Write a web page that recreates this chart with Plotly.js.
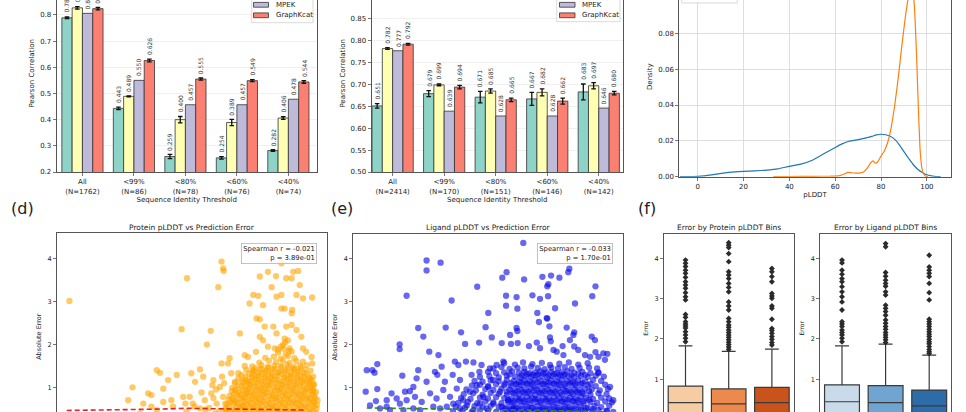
<!DOCTYPE html>
<html><head><meta charset="utf-8">
<script src="https://cdn.plot.ly/plotly-3.0.1.min.js"></script>
<style>
html,body{margin:0;padding:0;overflow:hidden;background:#fff;width:966px;height:412px}
#fig{position:absolute;left:0;top:-30px;width:966px;height:480px}
</style></head><body><div id="fig"></div>
<script>
// ---------------- DATA ----------------
const modelNames = ['Model 1', 'Model 2', 'MPEK', 'GraphKcat'];
const thresholdLabelsA = ['All<br>(N=1762)', '&lt;99%<br>(N=86)', '&lt;80%<br>(N=78)', '&lt;60%<br>(N=76)', '&lt;40%<br>(N=74)'];
const thresholdLabelsB = ['All<br>(N=2414)', '&lt;99%<br>(N=170)', '&lt;80%<br>(N=151)', '&lt;60%<br>(N=146)', '&lt;40%<br>(N=142)'];

const pearsonA_model1 = [0.789, 0.443, 0.259, 0.254, 0.282];
const pearsonA_model2 = [0.827, 0.489, 0.400, 0.389, 0.406];
const pearsonA_mpek = [0.806, 0.550, 0.457, 0.457, 0.478];
const pearsonA_graphkcat = [0.824, 0.626, 0.555, 0.549, 0.544];
const errA_model1 = [0.003, 0.005, 0.008, 0.005, 0.003];
const errA_model2 = [0.005, 0.002, 0.012, 0.012, 0.005];
const errA_graphkcat = [0.005, 0.005, 0.004, 0.004, 0.005];

const pearsonB_model1 = [0.651, 0.679, 0.671, 0.667, 0.683];
const pearsonB_model2 = [0.782, 0.699, 0.685, 0.682, 0.697];
const pearsonB_mpek = [0.777, 0.639, 0.628, 0.628, 0.646];
const pearsonB_graphkcat = [0.792, 0.694, 0.665, 0.662, 0.680];
const errB_model1 = [0.005, 0.007, 0.013, 0.015, 0.018];
const errB_model2 = [0.002, 0.002, 0.005, 0.008, 0.007];
const errB_graphkcat = [0.002, 0.004, 0.004, 0.007, 0.004];

// density curves (panel c)
const densBlueX = [-7.7, -3, 0, 3, 6, 9, 12, 15, 20, 25, 30, 35, 40, 45, 50, 55, 60, 63, 66, 70, 73, 76, 78, 80, 82, 84, 86, 88, 90, 92, 94, 96, 98, 100, 102, 104, 106];
const densBlueY = [0, 0.0001, 0.0002, 0.0005, 0.001, 0.0016, 0.0021, 0.0025, 0.003, 0.0033, 0.0037, 0.0044, 0.0058, 0.007, 0.0092, 0.0128, 0.0163, 0.0183, 0.0198, 0.0207, 0.0215, 0.0225, 0.0233, 0.0237, 0.0234, 0.0226, 0.0208, 0.0178, 0.014, 0.0103, 0.0068, 0.0042, 0.0024, 0.0011, 0.0005, 0.0001, 0];
const densOrangeX = [33, 40, 50, 58, 62, 64, 65.5, 67, 69, 71, 72.5, 74, 75.5, 76.5, 77.5, 78.5, 80, 81.5, 83, 84.5, 86, 87.5, 89, 90.5, 91.5, 92.5, 93.5, 94.5, 95.5, 96.3, 97, 97.8, 98.6, 99.5, 100.5];
const densOrangeY = [0, 0.0001, 0.0002, 0.0003, 0.0006, 0.0015, 0.0024, 0.0022, 0.002, 0.0021, 0.0028, 0.0048, 0.0078, 0.0088, 0.0075, 0.0082, 0.0115, 0.0145, 0.0195, 0.028, 0.04, 0.055, 0.072, 0.088, 0.097, 0.104, 0.107, 0.096, 0.068, 0.038, 0.016, 0.005, 0.0015, 0.0003, 0];

// panel d: protein pLDDT vs absolute error
const protPlddt = [
52.3,64.0,73.1,74.1,80.5,80.8,80.9,79.9,78.5,77.8,68.5,69.1,70.6,72.2,74.9,75.6,76.5,77.1,66.9,67.5,69.7,71.2,73.4,75.2,67.5,79.0,80.2,82.0,81.7,80.5,82.3,83.0,83.9,84.8,85.7,86.4,87.3,87.6,89.1,89.8,90.6,91.6,92.5,93.5,93.8,94.7,95.0,94.4,95.6,97.3,90.7,91.6,88.2,91.6,92.2,93.6,93.5,87.0,87.6,88.5,90.1,92.5,93.5,94.4,95.3,90.7,92.2,92.8,87.6,88.2,89.1,90.4,91.9,93.1,95.6,96.2,97.2,97.3,86.9,85.4,84.8,97.5,97.6,97.5,
63.2,65.4,66.0,68.5,69.7,70.3,71.5,74.0,74.6,75.9,76.5,77.4,78.6,79.3,79.6,80.8,81.4,82.7,83.0,83.3,83.6,84.5,85.1,85.4,86.0,86.4,61.0,
78.2,79.5,80.1,81.0,81.2,79.0,77.5,80.6,78.8,76.8,75.5,73.8,
91.5,92.3,91.0,93.0,92.0,
91.0,92.4,93.5,
88.6,90.2,91.5,92.8,94.0,
87.5,89.3,90.6,91.9,93.1,94.4,95.6,
86.2,87.9,89.1,90.3,91.5,92.7,93.9,95.1,96.3,
86.8,88.0,89.2,90.4,91.6,92.8,94.0,95.2,
85.1,86.5,87.6,88.8,90.0,91.2,92.4,93.6,94.8,96.0,97.0,
86.2,87.4,88.6,89.8,91.0,92.2,93.4,94.6,95.8,
84.2,85.6,86.8,88.0,89.2,90.4,91.6,92.8,94.0,95.2,96.4,
84.9,86.1,87.3,88.5,89.7,90.9,92.1,93.3,94.5,95.7,96.7,
83.6,85.0,86.2,87.4,88.6,89.8,91.0,92.2,93.4,94.6,95.8,97.0,
84.3,85.5,86.7,87.9,89.1,90.3,91.5,92.7,93.9,95.1,96.3,97.2,
83.0,84.6,85.8,87.0,88.2,89.4,90.6,91.8,93.0,94.2,95.4,96.6,97.6,
83.6,84.8,86.0,87.2,88.4,89.6,90.8,92.0,93.2,94.4,95.6,96.8,
82.5,84.2,85.4,86.6,87.8,89.0,90.2,91.4,92.6,93.8,95.0,96.2,97.3,
83.2,84.4,85.6,86.8,88.0,89.2,90.4,91.6,92.8,94.0,95.2,96.4,97.5,
82.4,83.8,85.0,86.2,87.4,88.6,89.8,91.0,92.2,93.4,94.6,95.8,97.0,98.0,
82.8,84.0,85.2,86.4,87.6,88.8,90.0,91.2,92.4,93.6,94.8,96.0,97.2,
82.0,83.4,84.6,85.8,87.0,88.2,89.4,90.6,91.8,93.0,94.2,95.4,96.6,97.7,
82.5,83.7,84.9,86.1,87.3,88.5,89.7,90.9,92.1,93.3,94.5,95.7,96.9,97.9,
81.8,83.1,84.3,85.5,86.7,87.9,89.1,90.3,91.5,92.7,93.9,95.1,96.3,97.5,98.3,
82.2,83.4,84.6,85.8,87.0,88.2,89.4,90.6,91.8,93.0,94.2,95.4,96.6,97.7,
81.5,82.8,84.0,85.2,86.4,87.6,88.8,90.0,91.2,92.4,93.6,94.8,96.0,97.2,98.2,
81.9,83.2,84.4,85.6,86.8,88.0,89.2,90.4,91.6,92.8,94.0,95.2,96.4,97.6,
81.2,82.6,83.8,85.0,86.2,87.4,88.6,89.8,91.0,92.2,93.4,94.6,95.8,97.0,98.1,
81.6,83.0,84.2,85.4,86.6,87.8,89.0,90.2,91.4,92.6,93.8,95.0,96.2,97.4,
81.0,82.4,83.6,84.8,86.0,87.2,88.4,89.6,90.8,92.0,93.2,94.4,95.6,96.8,98.0];
const protAbsErr = [
3.02,1.00,2.36,3.55,3.94,3.78,3.72,3.34,2.32,2.00,1.40,1.34,1.17,1.29,1.33,1.13,1.42,1.25,0.86,0.82,0.97,0.70,0.78,0.62,0.55,1.17,1.01,1.68,1.56,1.56,1.33,1.13,2.26,1.50,2.96,3.16,3.14,3.59,3.70,3.34,3.60,3.90,3.55,3.55,3.70,3.72,3.39,3.16,3.08,3.10,3.12,3.16,2.92,2.84,2.84,2.81,2.73,2.61,2.59,2.42,2.42,2.42,2.46,2.34,2.18,2.26,2.14,2.10,2.18,2.10,1.95,1.91,1.99,1.91,1.91,1.83,1.71,1.56,1.83,1.71,1.75,1.25,1.05,0.90,
0.70,0.39,0.62,0.47,0.66,0.31,0.55,0.43,0.78,0.31,0.51,0.70,0.86,0.39,0.62,0.78,0.47,0.70,0.94,0.39,1.33,0.58,0.86,1.13,0.31,1.40,0.31,
0.52,0.95,0.45,1.10,0.62,0.75,0.48,1.25,1.05,0.88,0.55,0.62,
1.95,2.05,1.88,1.85,1.90,
1.81,1.77,1.84,
1.69,1.72,1.67,1.73,1.68,
1.58,1.62,1.59,1.63,1.57,1.61,1.60,
1.49,1.52,1.48,1.51,1.50,1.53,1.47,1.50,1.52,
1.45,1.43,1.46,1.44,1.47,1.45,1.43,1.46,
1.41,1.38,1.42,1.39,1.41,1.37,1.40,1.43,1.38,1.41,1.39,
1.35,1.33,1.36,1.34,1.35,1.37,1.33,1.36,1.34,
1.29,1.32,1.28,1.31,1.30,1.27,1.32,1.29,1.31,1.28,1.30,
1.25,1.23,1.26,1.24,1.25,1.27,1.23,1.26,1.24,1.25,1.23,
1.21,1.18,1.22,1.19,1.21,1.20,1.17,1.22,1.19,1.21,1.18,1.20,
1.15,1.13,1.16,1.14,1.15,1.17,1.13,1.16,1.14,1.15,1.13,1.16,
1.10,1.12,1.08,1.11,1.09,1.12,1.10,1.08,1.11,1.09,1.12,1.10,1.08,
1.05,1.03,1.06,1.04,1.05,1.07,1.03,1.06,1.04,1.05,1.03,1.06,
0.99,1.02,0.98,1.01,0.99,1.02,1.00,0.98,1.01,0.99,1.02,0.98,1.00,
0.95,0.93,0.96,0.94,0.95,0.97,0.93,0.96,0.94,0.95,0.93,0.96,0.94,
0.91,0.88,0.92,0.89,0.91,0.90,0.88,0.92,0.89,0.91,0.88,0.90,0.92,0.89,
0.85,0.83,0.86,0.84,0.85,0.87,0.83,0.86,0.84,0.85,0.83,0.86,0.84,
0.80,0.82,0.78,0.81,0.79,0.82,0.80,0.78,0.81,0.79,0.82,0.80,0.78,0.81,
0.75,0.73,0.76,0.74,0.75,0.77,0.73,0.76,0.74,0.75,0.73,0.76,0.74,0.75,
0.71,0.68,0.72,0.69,0.71,0.70,0.68,0.72,0.69,0.71,0.68,0.70,0.72,0.69,0.70,
0.65,0.63,0.66,0.64,0.65,0.67,0.63,0.66,0.64,0.65,0.63,0.66,0.64,0.65,
0.60,0.62,0.58,0.61,0.59,0.62,0.60,0.58,0.61,0.59,0.62,0.60,0.58,0.61,0.59,
0.55,0.53,0.56,0.54,0.55,0.57,0.53,0.56,0.54,0.55,0.53,0.56,0.54,0.55,
0.51,0.48,0.52,0.49,0.51,0.50,0.48,0.52,0.49,0.51,0.48,0.50,0.52,0.49,0.50,
0.45,0.43,0.46,0.44,0.45,0.47,0.43,0.46,0.44,0.45,0.43,0.46,0.44,0.45,
0.40,0.42,0.38,0.41,0.39,0.42,0.40,0.38,0.41,0.39,0.42,0.40,0.38,0.41,0.39];
const protTrendX = [51.8, 60, 68, 74, 80, 86, 92, 96.2];
const protTrendY = [0.46, 0.47, 0.49, 0.51, 0.50, 0.48, 0.47, 0.47];

// panel e: ligand pLDDT vs absolute error
const ligPlddt = [
63.1,27.2,27.2,32.4,19.8,36.5,46.0,55.3,56.9,63.4,70.2,73.4,76.5,79.8,80.2,82.3,72.0,72.4,56.7,60.6,66.5,69.3,72.3,56.7,60.9,74.9,88.7,89.9,50.1,49.1,34.3,24.1,26.0,40.0,51.4,60.6,60.9,68.3,71.8,72.0,72.8,68.9,79.2,82.0,81.7,80.4,88.5,89.7,89.9,94.3,73.0,73.3,58.2,55.1,58.5,61.0,65.2,68.1,77.7,82.0,28.2,31.6,17.2,17.2,41.5,46.7,69.3,74.3,75.5,78.0,83.5,86.0,87.9,92.8,93.4,91.0,
5.0,7.1,7.9,8.9,4.6,8.9,8.4,18.2,16.1,21.0,19.2,22.3,24.1,23.5,27.2,30.3,31.2,32.8,37.7,39.0,41.8,44.6,47.6,34.0,36.9,39.6,43.9,46.8,50.7,53.2,55.7,12.4,14.2,17.3,19.8,22.9,25.4,28.5,30.9,33.4,35.9,38.4,40.8,43.3,45.8,48.3,50.1,51.9,54.5,56.3,9.9,13.6,18.6,22.3,24.8,29.7,32.2,34.7,37.1,39.6,42.1,44.6,47.0,49.5,52.0,55.1,57.5,59.4,12.4,6.2,91.0,95.3,96.5,94.1,
56,60,63,66.5,70,73,76.5,80,83.5,87,
52,55,58,61,63.5,66,68.5,71,73.5,76,78.5,81,84,87.5,90.5,
50,53,56,59,61.5,63.5,65.5,67.5,69.5,71.5,73.5,75.5,77.5,79.5,82,85,88,91,
58,62.5,64.5,66.5,68.5,70.5,72.5,74.5,76.5,78.5,81,83.5,86,
47,50.5,54,57,60,62,64,66,68,70,72,74,76,78,80,82,84.5,87,90,93,
45,48,51,54,57,59.5,61.5,63.5,65.5,67.5,69.5,71.5,73.5,75.5,77.5,79.5,81.5,83.5,86,89,92,
58.5,60.5,62.5,64.5,66.5,68.5,70.5,72.5,74.5,76.5,78.5,80.5,82.5,85,88,
44,47,50,53,56,58.5,60.5,62.5,64.5,66.5,68.5,70.5,72.5,74.5,76.5,78.5,80.5,82.5,84.5,87,90,93.5,
42,45.5,49,52,55,58,60,62,64,66,68,70,72,74,76,78,80,82,84,86,88.5,91.5,94.5,
57,59,61,63,65,67,69,71,73,75,77,79,81,83,85,87.5,
41,44.5,48,51,54,57,59.5,61.5,63.5,65.5,67.5,69.5,71.5,73.5,75.5,77.5,79.5,81.5,83.5,85.5,88,91,94,
40,43.5,47,50,53,56,58.5,60.5,62.5,64.5,66.5,68.5,70.5,72.5,74.5,76.5,78.5,80.5,82.5,84.5,86.5,89,92,95,
57.5,59.5,61.5,63.5,65.5,67.5,69.5,71.5,73.5,75.5,77.5,79.5,81.5,83.5,85.5,87.5,
39,42.5,46,49,52,55,57.5,59.5,61.5,63.5,65.5,67.5,69.5,71.5,73.5,75.5,77.5,79.5,81.5,83.5,85.5,88,90.5,93.5,96,
38,41.5,45,48,51,54,56.5,58.5,60.5,62.5,64.5,66.5,68.5,70.5,72.5,74.5,76.5,78.5,80.5,82.5,84.5,87,89.5,92,95,
56.5,58.5,60.5,62.5,64.5,66.5,68.5,70.5,72.5,74.5,76.5,78.5,80.5,82.5,84.5,86.5,89,
37,40.5,44,47,50,53,55.5,57.5,59.5,61.5,63.5,65.5,67.5,69.5,71.5,73.5,75.5,77.5,79.5,81.5,83.5,86,88.5,91,94,96.5];
const ligAbsErr = [
4.36,3.95,3.72,3.90,3.13,3.02,3.34,3.55,3.68,3.51,3.57,3.60,3.55,3.68,3.76,2.95,3.35,3.40,3.13,3.10,3.14,3.06,3.12,2.90,2.83,2.84,3.12,3.35,2.73,2.40,2.39,2.38,2.18,2.28,2.16,2.38,2.31,2.73,2.61,2.60,2.42,2.52,2.39,2.28,2.22,2.10,2.18,2.10,1.82,1.78,2.16,2.07,2.22,2.03,2.01,2.03,1.96,2.04,1.96,1.95,1.83,1.75,2.00,1.89,2.01,2.04,1.91,1.87,1.83,1.75,1.87,1.75,1.71,1.79,1.64,1.71,
1.40,1.40,1.34,1.54,0.90,0.96,0.68,1.27,0.74,0.91,0.90,1.01,1.40,1.21,1.13,1.36,1.29,1.48,1.60,1.52,1.60,1.58,1.52,1.13,1.29,1.17,1.29,1.36,1.44,1.52,1.60,0.70,0.86,0.62,0.70,0.78,0.66,0.86,0.74,0.94,0.78,0.97,0.70,0.90,1.05,0.78,1.01,1.17,0.90,1.09,0.51,0.47,0.47,0.51,0.47,0.55,0.51,0.55,0.62,0.51,0.58,0.47,0.62,0.51,0.62,0.55,0.70,0.51,0.55,0.58,1.33,1.01,0.70,0.45,
1.56,1.53,1.58,1.54,1.57,1.52,1.55,1.58,1.53,1.56,
1.44,1.47,1.43,1.46,1.44,1.48,1.45,1.42,1.46,1.44,1.47,1.43,1.45,1.46,1.44,
1.36,1.33,1.35,1.37,1.34,1.36,1.33,1.35,1.37,1.34,1.36,1.33,1.35,1.37,1.34,1.36,1.33,1.35,
1.30,1.28,1.31,1.29,1.30,1.32,1.28,1.31,1.29,1.30,1.28,1.31,1.29,
1.24,1.26,1.23,1.27,1.25,1.23,1.26,1.24,1.27,1.25,1.23,1.26,1.24,1.27,1.25,1.23,1.26,1.24,1.27,1.25,
1.15,1.13,1.16,1.14,1.17,1.15,1.13,1.16,1.14,1.17,1.15,1.13,1.16,1.14,1.17,1.15,1.13,1.16,1.14,1.17,1.15,
1.10,1.08,1.11,1.09,1.10,1.12,1.08,1.11,1.09,1.10,1.08,1.11,1.09,1.10,1.08,
1.04,1.06,1.03,1.07,1.05,1.03,1.06,1.04,1.07,1.05,1.03,1.06,1.04,1.07,1.05,1.03,1.06,1.04,1.07,1.05,1.03,1.06,
0.95,0.93,0.96,0.94,0.97,0.95,0.93,0.96,0.94,0.97,0.95,0.93,0.96,0.94,0.97,0.95,0.93,0.96,0.94,0.97,0.95,0.93,0.96,
0.90,0.88,0.91,0.89,0.90,0.92,0.88,0.91,0.89,0.90,0.88,0.91,0.89,0.90,0.88,0.91,
0.84,0.86,0.83,0.87,0.85,0.83,0.86,0.84,0.87,0.85,0.83,0.86,0.84,0.87,0.85,0.83,0.86,0.84,0.87,0.85,0.83,0.86,0.84,
0.75,0.73,0.76,0.74,0.77,0.75,0.73,0.76,0.74,0.77,0.75,0.73,0.76,0.74,0.77,0.75,0.73,0.76,0.74,0.77,0.75,0.73,0.76,0.74,
0.70,0.68,0.71,0.69,0.70,0.72,0.68,0.71,0.69,0.70,0.68,0.71,0.69,0.70,0.68,0.71,
0.64,0.66,0.63,0.67,0.65,0.63,0.66,0.64,0.67,0.65,0.63,0.66,0.64,0.67,0.65,0.63,0.66,0.64,0.67,0.65,0.63,0.66,0.64,0.67,0.65,
0.55,0.53,0.56,0.54,0.57,0.55,0.53,0.56,0.54,0.57,0.55,0.53,0.56,0.54,0.57,0.55,0.53,0.56,0.54,0.57,0.55,0.53,0.56,0.54,0.57,
0.50,0.48,0.51,0.49,0.50,0.52,0.48,0.51,0.49,0.50,0.48,0.51,0.49,0.50,0.48,0.51,0.49,
0.44,0.46,0.43,0.47,0.45,0.43,0.46,0.44,0.47,0.45,0.43,0.46,0.44,0.47,0.45,0.43,0.46,0.44,0.47,0.45,0.43,0.46,0.44,0.47,0.45,0.43];
const ligTrendX = [5, 20, 35, 50, 65, 80, 95.3];
const ligTrendY = [0.52, 0.51, 0.50, 0.49, 0.47, 0.45, 0.43];

// panel f: box statistics
const protBinQ1 = [0.15, 0.14, 0.15];
const protBinMedian = [0.42, 0.39, 0.42];
const protBinQ3 = [0.83, 0.76, 0.80];
const protBinUpper = [1.83, 1.69, 1.75];
const protBinLower = [0, 0, 0];
const protBinOutliers = [
 [3.96,3.88,3.80,3.71,3.63,3.53,3.42,3.34,3.26,3.15,3.05,2.97,2.61,2.54,2.43,2.37,2.32,2.27,2.18,2.10,2.02,1.93],
 [4.39,4.33,4.27,4.12,3.92,3.67,3.59,3.50,3.38,3.28,3.17,2.92,2.82,2.72,2.51,2.43,2.35,2.29,2.22,2.16,2.10,2.04,1.98,1.92,1.86,1.80,1.74],
 [3.75,3.67,3.55,3.42,3.13,3.07,3.01,2.82,2.76,2.49,2.26,2.21,2.14,2.06,1.99,1.91,1.85]];
const ligBinQ1 = [0.17, 0.16, 0.13];
const ligBinMedian = [0.44, 0.42, 0.34];
const ligBinQ3 = [0.86, 0.84, 0.73];
const ligBinUpper = [1.83, 1.87, 1.60];
const ligBinLower = [0, 0, 0];
const ligBinOutliers = [
 [3.96,3.89,3.71,3.61,3.50,3.42,3.30,3.17,3.05,2.92,2.72,2.43,2.37,2.31,2.22,2.16,2.10,2.02,1.93],
 [4.37,4.29,3.65,3.56,3.46,3.38,3.31,3.17,3.09,2.84,2.76,2.68,2.59,2.47,2.39,2.31,2.24,2.16,2.10,2.04,1.98,1.91],
 [4.08,3.79,3.71,3.63,3.55,3.38,3.15,2.97,2.49,2.43,2.37,2.31,2.24,2.18,2.12,2.06,1.99,1.93,1.88,1.81,1.74,1.68,1.64]];

// ---------------- STYLE / LAYOUT ----------------
const FONT = 'DejaVu Sans';
const W = 966, H = 480, OFF = 30;
const fx = p => p / W;
const fy = p => 1 - (p + OFF) / H;
const barColors = ['#8dd3c7', '#ffffb3', '#bebada', '#fb8072'];
const protBinColors = ['#f6cda2', '#ec8a4e', '#c9531b'];
const ligBinColors = ['#c9dbeb', '#70a5d1', '#2d6ca8'];
const TXT = '#222';

const traces = [];
const annotations = [];
const shapes = [];

function addBars(seriesList, errList, xa, ya) {
  seriesList.forEach((vals, k) => {
    const e = errList[k];
    traces.push({
      type: 'bar', x: vals.map((v, i) => i), y: vals, name: modelNames[k], xaxis: xa, yaxis: ya,
      marker: {color: barColors[k], line: {color: '#333', width: 0.8}},
      error_y: e ? {type: 'data', array: e, visible: true, color: '#111', thickness: 1.3, width: 2.3} : {visible: false},
      showlegend: false, hoverinfo: 'skip'
    });
    vals.forEach((v, i) => {
      annotations.push({xref: xa, yref: ya, x: i + (k - 1.5) * 0.2, y: v + (e ? e[i] : 0),
        text: v.toFixed(3), textangle: -90, showarrow: false, xanchor: 'center', yanchor: 'bottom', yshift: 2,
        font: {family: FONT, size: 6, color: '#333'}});
    });
  });
}
addBars([pearsonA_model1, pearsonA_model2, pearsonA_mpek, pearsonA_graphkcat],
        [errA_model1, errA_model2, null, errA_graphkcat], 'x', 'y');
addBars([pearsonB_model1, pearsonB_model2, pearsonB_mpek, pearsonB_graphkcat],
        [errB_model1, errB_model2, null, errB_graphkcat], 'x2', 'y2');

// manual legends for (a) and (b)
function addLegend(left, right, bottom, swX0, swX1, textX) {
  shapes.push({type: 'rect', xref: 'paper', yref: 'paper', x0: fx(left), x1: fx(right), y0: fy(bottom), y1: fy(-20),
    fillcolor: 'rgba(255,255,255,0.9)', line: {color: '#cfcfcf', width: 0.8}, layer: 'above'});
  [[2, 4.8], [3, 15.3]].forEach(([k, cy]) => {
    shapes.push({type: 'rect', xref: 'paper', yref: 'paper', x0: fx(swX0), x1: fx(swX1), y0: fy(cy + 2.4), y1: fy(cy - 2.4),
      fillcolor: barColors[k], line: {color: '#333', width: 0.8}, layer: 'above'});
    annotations.push({xref: 'paper', yref: 'paper', x: fx(textX), y: fy(cy), text: modelNames[k], showarrow: false,
      xanchor: 'left', yanchor: 'middle', font: {family: FONT, size: 7, color: TXT}});
  });
}
addLegend(251.7, 313, 22.7, 253.5, 268.5, 273.5);
addLegend(556.7, 620, 21.7, 559.5, 575, 579.5);

// panel c
traces.push({type: 'scatter', mode: 'lines', x: densBlueX, y: densBlueY, xaxis: 'x3', yaxis: 'y3',
  line: {color: '#1f77b4', width: 1.2, shape: 'spline', smoothing: 0.6}, showlegend: false, hoverinfo: 'skip'});
traces.push({type: 'scatter', mode: 'lines', x: densOrangeX, y: densOrangeY, xaxis: 'x3', yaxis: 'y3',
  line: {color: '#ff7f0e', width: 1.2, shape: 'spline', smoothing: 0.4}, showlegend: false, hoverinfo: 'skip'});
shapes.push({type: 'rect', xref: 'paper', yref: 'paper', x0: fx(681.7), x1: fx(737.3), y0: fy(3), y1: fy(-20),
  fillcolor: 'rgba(255,255,255,0.9)', line: {color: '#cfcfcf', width: 0.8}, layer: 'above'});

// panel d & e
traces.push({type: 'scatter', mode: 'markers', x: protPlddt, y: protAbsErr, xaxis: 'x4', yaxis: 'y4',
  marker: {color: 'rgba(255,165,0,0.6)', size: 6.3, line: {width: 0}}, showlegend: false, hoverinfo: 'skip'});
traces.push({type: 'scatter', mode: 'lines', x: protTrendX, y: protTrendY, xaxis: 'x4', yaxis: 'y4',
  line: {color: '#e3242b', width: 1.6, dash: '5px,3px'}, showlegend: false, hoverinfo: 'skip'});
traces.push({type: 'scatter', mode: 'markers', x: ligPlddt, y: ligAbsErr, xaxis: 'x5', yaxis: 'y5',
  marker: {color: 'rgba(10,10,230,0.62)', size: 6.3, line: {width: 0}}, showlegend: false, hoverinfo: 'skip'});
traces.push({type: 'scatter', mode: 'lines', x: ligTrendX, y: ligTrendY, xaxis: 'x5', yaxis: 'y5',
  line: {color: '#2a8a2a', width: 1.6, dash: '5px,3px'}, showlegend: false, hoverinfo: 'skip'});

// panel f
function addBoxes(q1, med, q3, lo, up, outl, colors, xa, ya) {
  q1.forEach((_, i) => {
    traces.push({type: 'box', x: [i], q1: [q1[i]], median: [med[i]], q3: [q3[i]], lowerfence: [lo[i]], upperfence: [up[i]],
      xaxis: xa, yaxis: ya, width: 0.8, fillcolor: colors[i], line: {color: '#3a3a3a', width: 1.2}, whiskerwidth: 0.4,
      boxpoints: false, showlegend: false, hoverinfo: 'skip'});
    traces.push({type: 'scatter', mode: 'markers', x: outl[i].map(() => i), y: outl[i], xaxis: xa, yaxis: ya,
      marker: {symbol: 'diamond', size: 4.5, color: '#2b2b2b'}, showlegend: false, hoverinfo: 'skip'});
  });
}
addBoxes(protBinQ1, protBinMedian, protBinQ3, protBinLower, protBinUpper, protBinOutliers, protBinColors, 'x6', 'y6');
addBoxes(ligBinQ1, ligBinMedian, ligBinQ3, ligBinLower, ligBinUpper, ligBinOutliers, ligBinColors, 'x7', 'y7');

// text annotations
function paperText(text, x, y, size, opts) {
  annotations.push(Object.assign({xref: 'paper', yref: 'paper', x: fx(x), y: fy(y), text: text, showarrow: false,
    xanchor: 'center', yanchor: 'middle', font: {family: FONT, size: size, color: TXT}}, opts || {}));
}
paperText('(d)', 9, 208, 16, {xanchor: 'left'});
paperText('(e)', 329, 208, 16, {xanchor: 'left'});
paperText('(f)', 636, 208, 16, {xanchor: 'left'});
paperText('Protein pLDDT vs Prediction Error', 191.8, 227.5, 7.5);
paperText('Ligand pLDDT vs Prediction Error', 488, 227.5, 7.5);
paperText('Error by Protein pLDDT Bins', 728.7, 227.5, 7.5);
paperText('Error by Ligand pLDDT Bins', 885.6, 227.5, 7.5);
paperText('Spearman r = -0.021<br>p = 3.89e-01', 316.5, 243.3, 6.8,
  {xanchor: 'right', yanchor: 'top', align: 'right', bordercolor: '#b5b5b5', borderwidth: 0.8, borderpad: 1.5, bgcolor: 'rgba(255,255,255,0.85)'});
paperText('Spearman r = -0.033<br>p = 1.70e-01', 612.5, 243.3, 6.8,
  {xanchor: 'right', yanchor: 'top', align: 'right', bordercolor: '#b5b5b5', borderwidth: 0.8, borderpad: 1.5, bgcolor: 'rgba(255,255,255,0.85)'});

const axBase = {showline: true, mirror: true, linecolor: '#555', linewidth: 1, ticks: 'outside', ticklen: 3,
  tickwidth: 0.8, tickcolor: '#555', zeroline: false, showgrid: false, tickfont: {family: FONT, size: 7, color: TXT}};
const ax = (o) => Object.assign({}, axBase, o);
const ttl = (t, size, standoff) => ({text: t, font: {family: FONT, size: size, color: TXT}, standoff: standoff});

const layout = {
  width: W, height: H, margin: {l: 0, r: 0, t: 0, b: 0}, paper_bgcolor: '#fff', plot_bgcolor: '#fff',
  showlegend: false, barmode: 'group', bargap: 0.2, bargroupgap: 0,
  font: {family: FONT, size: 7, color: TXT},
  // (a)
  xaxis: ax({domain: [fx(56.7), fx(316.7)], range: [-0.5, 4.55], anchor: 'y', tickvals: [0, 1, 2, 3, 4], ticktext: thresholdLabelsA,
    title: ttl('Sequence Identity Threshold', 7, 2)}),
  yaxis: ax({domain: [fy(172), fy(-25.4)], range: [0.2, 0.954], anchor: 'x', tickvals: [0.2, 0.3, 0.4, 0.5, 0.6, 0.7, 0.8],
    tickformat: '.1f', showgrid: true, gridcolor: '#ececec', gridwidth: 0.8, title: ttl('Pearson Correlation', 7, 4)}),
  // (b)
  xaxis2: ax({domain: [fx(371.5), fx(623)], range: [-0.41, 4.47], anchor: 'y2', tickvals: [0, 1, 2, 3, 4], ticktext: thresholdLabelsB,
    title: ttl('Sequence Identity Threshold', 7, 2)}),
  yaxis2: ax({domain: [fy(172), fy(-25.4)], range: [0.5, 0.951], anchor: 'x2', tickvals: [0.5, 0.55, 0.6, 0.65, 0.7, 0.75, 0.8, 0.85],
    tickformat: '.2f', showgrid: true, gridcolor: '#ececec', gridwidth: 0.8, title: ttl('Pearson Correlation', 7, 4)}),
  // (c)
  xaxis3: ax({domain: [fx(679.3), fx(950.7)], range: [-8, 110.4], anchor: 'y3', tickvals: [0, 20, 40, 60, 80, 100],
    showgrid: true, gridcolor: '#d6d6d6', gridwidth: 0.8, title: ttl('pLDDT', 7, 2)}),
  yaxis3: ax({domain: [fy(176.7), fy(-23.3)], range: [0, 0.1116], anchor: 'x3', tickvals: [0, 0.02, 0.04, 0.06, 0.08],
    tickformat: '.2f', showgrid: true, gridcolor: '#d6d6d6', gridwidth: 0.8, title: ttl('Density', 7, 4)}),
  // (d)
  xaxis4: ax({domain: [fx(57), fx(326.7)], range: [50, 100], anchor: 'y4', showticklabels: false}),
  yaxis4: ax({domain: [fy(440), fy(233.3)], range: [-0.23, 4.6], anchor: 'x4', tickvals: [1, 2, 3, 4],
    tickfont: {family: FONT, size: 6.5, color: TXT}, title: ttl('Absolute Error', 6.5, 5)}),
  // (e)
  xaxis5: ax({domain: [fx(353.3), fx(622.7)], range: [0, 100], anchor: 'y5', showticklabels: false}),
  yaxis5: ax({domain: [fy(440.2), fy(234.3)], range: [-0.23, 4.56], anchor: 'x5', tickvals: [1, 2, 3, 4],
    tickfont: {family: FONT, size: 6.5, color: TXT}, title: ttl('Absolute Error', 6.5, 5)}),
  // (f) left/right
  xaxis6: ax({domain: [fx(663.9), fx(793.5)], range: [-0.5, 2.5], anchor: 'y6', showticklabels: false, tickvals: [0, 1, 2]}),
  yaxis6: ax({domain: [fy(422.3), fy(234.3)], range: [-0.07, 4.6], anchor: 'x6', tickvals: [1, 2, 3, 4],
    tickfont: {family: FONT, size: 6.5, color: TXT}, title: ttl('Error', 6, 5)}),
  xaxis7: ax({domain: [fx(820.2), fx(951)], range: [-0.5, 2.5], anchor: 'y7', showticklabels: false, tickvals: [0, 1, 2]}),
  yaxis7: ax({domain: [fy(422.3), fy(234.3)], range: [-0.07, 4.6], anchor: 'x7', tickvals: [1, 2, 3, 4],
    tickfont: {family: FONT, size: 6.5, color: TXT}, title: ttl('Error', 6, 5)}),
  annotations: annotations,
  shapes: shapes
};

Plotly.newPlot('fig', traces, layout, {staticPlot: true, displayModeBar: false});
</script></body></html>
